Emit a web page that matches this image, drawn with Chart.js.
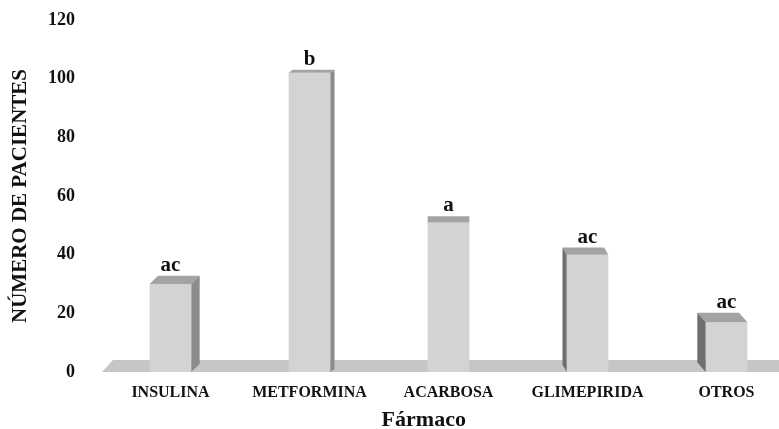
<!DOCTYPE html>
<html>
<head>
<meta charset="utf-8">
<script src="https://cdn.jsdelivr.net/npm/chart.js@4/dist/chart.umd.min.js"></script>
<style>
  html, body { margin: 0; padding: 0; background: #fff; overflow: hidden; }
  #wrap { width: 796px; height: 429px; }
</style>
</head>
<body>
<div id="wrap"><canvas id="myCanvas"></canvas></div>
<script>
// datos
var farmacos = ['INSULINA', 'METFORMINA', 'ACARBOSA', 'GLIMEPIRIDA', 'OTROS'];
var pacientes = [30, 102, 51, 40, 17];
var letras = ['ac', 'b', 'a', 'ac', 'ac'];
var yMin = 0, yMax = 120, yPaso = 20;

var serif = '"Liberation Serif", "Times New Roman", serif';

// suelo y caras laterales para el efecto 3D
var efecto3d = {
	id: 'efecto3d',
	beforeDatasetsDraw: function(chart) {
		var ctx = chart.ctx, area = chart.chartArea;
		var y0 = chart.scales.y.getPixelForValue(0);
		ctx.save();
		ctx.fillStyle = '#c6c6c6';
		ctx.beginPath();
		ctx.moveTo(area.left + 1, y0);
		ctx.lineTo(area.left + 12, y0 - 12);
		ctx.lineTo(chart.width, y0 - 12);
		ctx.lineTo(chart.width, y0);
		ctx.closePath();
		ctx.fill();
		ctx.restore();
	},
	afterDatasetsDraw: function(chart) {
		var ctx = chart.ctx, area = chart.chartArea;
		var cx = (area.left + area.right) / 2;
		var meta = chart.getDatasetMeta(0);
		ctx.save();
		meta.data.forEach(function(bar, i) {
			var half = bar.width / 2;
			var x1 = bar.x - half, x2 = bar.x + half;
			var top = bar.y, base = bar.base;
			var dx = (cx - bar.x) * 0.03;
			var dy = -Math.max(3, (top - 40) / 30);
			// cara superior
			ctx.fillStyle = '#a3a3a3';
			ctx.beginPath();
			ctx.moveTo(x1, top);
			ctx.lineTo(x1 + dx, top + dy);
			ctx.lineTo(x2 + dx, top + dy);
			ctx.lineTo(x2, top);
			ctx.closePath();
			ctx.fill();
			// cara lateral
			if (Math.abs(dx) > 0.5) {
				var sx = dx > 0 ? x2 : x1;
				ctx.fillStyle = dx > 0 ? '#8c8c8c' : '#6f6f6f';
				ctx.beginPath();
				ctx.moveTo(sx, top);
				ctx.lineTo(sx + dx, top + dy);
				ctx.lineTo(sx + dx, base + dy);
				ctx.lineTo(sx, base);
				ctx.closePath();
				ctx.fill();
			}
			// letras de significancia
			ctx.fillStyle = '#111';
			ctx.font = 'bold 21px ' + serif;
			ctx.textAlign = 'center';
			ctx.textBaseline = 'alphabetic';
			ctx.fillText(letras[i], bar.x, top + dy - 5);
		});
		ctx.restore();
	}
};

var ctx = document.getElementById('myCanvas').getContext('2d');
var myChart = new Chart(ctx, {
	type: 'bar',
	data: {
		labels: farmacos,
		datasets: [{
			data: pacientes,
			backgroundColor: '#d3d3d3',
			borderWidth: 0,
			barPercentage: 0.3,
			categoryPercentage: 1
		}]
	},
	options: {
		responsive: true,
		maintainAspectRatio: false,
		animation: false,
		layout: { padding: { top: 20, left: 0, right: 0, bottom: 0 } },
		plugins: {
			legend: { display: false },
			tooltip: { enabled: false }
		},
		scales: {
			x: {
				grid: { display: false, drawTicks: false },
				border: { display: false },
				ticks: {
					color: '#111',
					padding: 11,
					font: { family: serif, size: 16, weight: 'bold' }
				},
				title: {
					display: true,
					text: 'Fármaco         ',
					color: '#111',
					padding: { top: 0, bottom: -5 },
					font: { family: serif, size: 22, weight: 'bold' }
				},
				afterFit: function(scale) { scale.height = 57; }
			},
			y: {
				min: yMin,
				max: yMax,
				grid: { display: false, drawTicks: false },
				border: { display: false },
				ticks: {
					stepSize: yPaso,
					color: '#111',
					padding: 26,
					font: { family: serif, size: 18, weight: 'bold' }
				},
				title: {
					display: true,
					text: 'NÚMERO DE PACIENTES',
					color: '#111',
					padding: { top: 8, bottom: 0 },
					font: { family: serif, size: 21, weight: 'bold' }
				},
				afterFit: function(scale) {
					scale.width = 101;
					scale.paddingTop = 0;
					scale.paddingBottom = 0;
				}
			}
		}
	},
	plugins: [efecto3d]
});
</script>
</body>
</html>
